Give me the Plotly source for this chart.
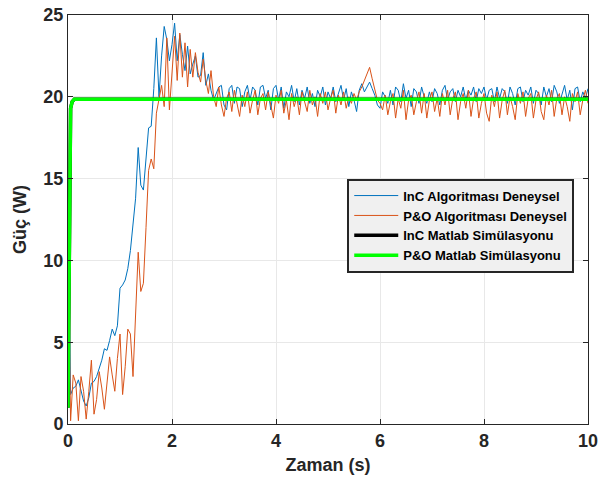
import numpy as np
import plotly.graph_objects as go

# InC experimental power (W), sampled every 0.05 s from t = 0
inc_exp = [11.8,1.8,2.2,2.3,2.7,2.0,1.4,1.1,1.6,2.5,2.6,2.9,3.4,3.9,4.6,4.5,5.1,5.8,5.4,6.0,
           8.3,8.5,8.8,9.5,10.6,12.0,13.8,16.9,14.6,14.3,16.0,18.1,18.2,20.5,23.6,20.0,22.5,24.3,23.5,22.2,
           23.2,24.5,22.2,23.8,22.6,21.6,23.1,21.4,22.0,22.5,21.2,21.3,22.7,20.7,21.4,20.4,19.8,20.2,20.6,20.7,
           19.5,19.2,20.5,20.7,
           19.6,20.6,20.5,19.4,20.3,20.7,19.8,20.6,20.4,19.5,20.6,20.7,19.9,20.4,19.2,20.5,20.7,19.8,20.6,19.3,
           20.3,20.0,20.7,19.7,20.5,19.5,20.4,19.9,20.6,19.6,20.2,19.4,20.4,20.0,20.6,19.5,20.3,19.9,20.6,19.7,
           20.2,20.7,19.8,20.5,19.4,20.3,19.8,19.1,20.4,20.8,20.3,20.6,20.9,20.5,20.1,19.5,19.3,20.3,20.0,19.6,
           20.4,19.5,20.6,20.4,19.7,20.8,19.9,20.4,19.4,20.5,20.3,19.6,20.6,20.0,19.6,20.3,19.7,20.5,20.2,19.5,
           20.4,20.7,19.8,20.3,20.5,19.7,20.4,20.0,20.6,19.8,20.4,20.1,20.6,19.7,20.5,20.2,20.6,19.8,20.4,20.5,
           19.7,20.6,19.9,20.5,20.3,19.6,20.6,20.2,19.5,20.5,20.6,19.7,20.4,20.1,20.6,19.6,20.4,20.2,19.5,20.6,
           20.0,20.5,19.7,20.7,20.3,19.6,20.2,20.7,19.8,20.4,19.2,20.5,20.6,19.7,20.3,19.9,20.5]

# P&O experimental power (W), sampled every 0.05 s from t = 0
po_exp = [10.8,0.2,3.0,2.5,0.2,2.9,2.0,0.3,2.0,3.9,0.6,1.5,3.2,2.2,0.9,2.5,4.1,3.0,2.0,4.0,
          5.5,1.8,3.5,5.8,5.5,2.9,6.5,10.5,8.1,8.6,12.0,15.5,16.2,15.6,19.0,19.8,20.7,19.4,23.6,19.2,
          21.5,23.7,21.0,23.9,21.2,23.3,20.6,22.9,21.2,22.7,21.5,20.9,22.3,21.0,20.2,21.6,20.0,19.4,20.6,19.5,
          18.8,
          19.9,20.3,19.1,20.4,19.6,18.8,20.1,19.4,20.3,19.0,19.8,20.4,18.9,19.9,20.2,19.2,20.3,19.5,18.7,20.1,
          19.6,20.4,19.0,19.8,18.6,20.2,19.4,20.0,18.9,20.3,19.7,19.1,20.4,19.5,20.0,18.8,20.2,19.6,20.3,19.2,
          19.9,20.4,19.0,20.1,19.5,20.3,19.3,20.0,19.6,20.2,19.8,20.3,20.6,21.0,21.4,21.8,21.1,20.4,19.8,19.6,
          19.2,20.1,18.9,19.7,20.2,18.7,19.9,19.3,20.4,18.6,19.8,20.1,18.9,19.7,20.3,19.0,20.2,18.7,19.8,20.3,
          19.1,19.9,18.8,20.2,19.5,20.4,18.9,19.9,20.3,18.6,19.7,20.2,19.3,20.4,18.8,19.9,20.3,18.7,19.6,20.2,
          19.0,18.5,20.1,19.4,20.3,18.7,19.8,20.4,18.9,20.0,19.4,18.6,20.2,19.6,20.3,18.8,19.9,20.2,18.7,19.8,
          20.3,19.1,18.6,20.1,19.5,20.4,18.8,19.9,20.2,18.9,20.0,19.4,18.5,20.2,19.7,20.3,18.9,19.8,20.4,19.6]

# Matlab simulation curves
sim_t = [0.0, 0.01, 0.02, 0.03, 0.05, 0.08, 0.12, 10.0]
inc_sim = [1.0, 5.0, 12.0, 18.0, 19.3, 19.7, 19.85, 19.85]
po_sim = [1.0, 5.0, 12.0, 18.0, 19.3, 19.7, 19.85, 19.85]

t_inc = np.arange(len(inc_exp)) * 0.05
t_po = np.arange(len(po_exp)) * 0.05

fig = go.Figure()
fig.add_trace(go.Scatter(x=t_inc, y=inc_exp, mode="lines", name="InC Algoritması Deneysel",
                         line=dict(color="#0072BD", width=1)))
fig.add_trace(go.Scatter(x=t_po, y=po_exp, mode="lines", name="P&O Algoritması Deneysel",
                         line=dict(color="#D95319", width=1)))
fig.add_trace(go.Scatter(x=sim_t, y=inc_sim, mode="lines", name="InC Matlab Simülasyonu",
                         line=dict(color="#000000", width=3.5)))
fig.add_trace(go.Scatter(x=sim_t, y=po_sim, mode="lines", name="P&O Matlab Simülasyonu",
                         line=dict(color="#00FF00", width=3.5)))

axis_common = dict(
    showgrid=True, gridcolor="#e8e8e8", gridwidth=1,
    showline=True, linecolor="#262626", linewidth=1, mirror="ticks",
    ticks="inside", ticklen=5, tickcolor="#262626",
    tickfont=dict(family="Liberation Sans, Arial", size=18, color="#262626", weight="bold"),
    zeroline=False, automargin=False, ticklabeloverflow="allow",
)

fig.update_layout(
    width=600, height=486,
    margin=dict(l=68, r=12, t=15, b=62),
    paper_bgcolor="white", plot_bgcolor="white",
    font=dict(family="Liberation Sans, Arial", color="#262626"),
    xaxis=dict(range=[0, 10], dtick=2, tick0=0,
               title=dict(text="Zaman (s)", standoff=8,
                          font=dict(size=18, weight="bold", color="#262626")),
               **axis_common),
    yaxis=dict(range=[0, 25], dtick=5, tick0=0,
               title=dict(text="Güç (W)", standoff=12,
                          font=dict(size=18, weight="bold", color="#262626")),
               **axis_common),
    legend=dict(x=0.537, y=0.6, xanchor="left", yanchor="top",
                bgcolor="#f0f0f0", bordercolor="#262626", borderwidth=2,
                font=dict(size=13, weight="bold", color="#000000"),
                itemwidth=44, tracegroupgap=0),
    showlegend=True,
)

# remove the default page margin so the 600x486 figure fills the window exactly
fig.write_html("out.html",
               config={"displayModeBar": False},
               post_script="document.body.style.margin='0';document.body.style.overflow='hidden';")
